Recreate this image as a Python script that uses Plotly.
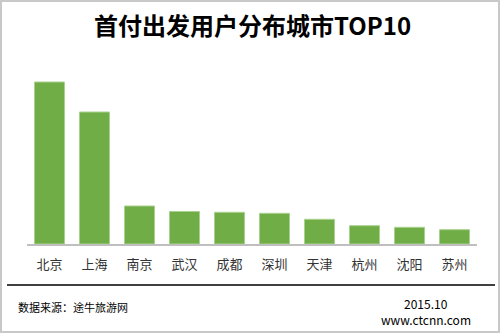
import plotly.graph_objects as go

cities = ["北京", "上海", "南京", "武汉", "成都", "深圳", "天津", "杭州", "沈阳", "苏州"]
values = [162, 132, 38, 32.5, 31.7, 30.7, 24.7, 18.3, 16.7, 14.3]

title_text = "首付出发用户分布城市TOP10"
source_text = "数据来源：途牛旅游网"
date_text = "2015.10"
site_text = "www.ctcnn.com"

FONT = "Noto Sans CJK SC"

# plot area geometry in pixels
L, R, T, B = 27, 477, 74, 244
W, H = R - L, B - T


def px(x):
    return (x - L) / W


def py(y):
    return (B - y) / H


fig = go.Figure(go.Bar(
    x=cities, y=values,
    marker=dict(color="#70AD47", line=dict(color="#A9D18E", width=1)),
    width=0.667,
))

fig.update_layout(
    width=500, height=333,
    margin=dict(l=L, r=500 - R, t=T, b=333 - B),
    paper_bgcolor="white", plot_bgcolor="white",
    showlegend=False,
    font=dict(family=FONT, color="#333333"),
    xaxis=dict(showline=True, linecolor="#BFBFBF", linewidth=1.5,
               ticks="outside", ticklen=8, tickcolor="rgba(0,0,0,0)",
               tickfont=dict(size=13, color="#333333", family=FONT),
               range=[-0.5, 9.5], fixedrange=True),
    yaxis=dict(visible=False, range=[0, 170], showgrid=False, zeroline=False),
    shapes=[
        dict(type="rect", xref="paper", yref="paper",
             x0=px(1), x1=px(499), y0=py(332), y1=py(1),
             line=dict(color="#C8C8C8", width=2), layer="above"),
        dict(type="line", xref="paper", yref="paper",
             x0=px(7), x1=px(495), y0=py(285), y1=py(285),
             line=dict(color="#000000", width=1.5)),
    ],
    annotations=[
        dict(text="<b>" + title_text + "</b>", xref="paper", yref="paper",
             x=px(252), y=py(25), xanchor="center", yanchor="middle",
             showarrow=False, font=dict(size=24, color="#000000", family=FONT)),
        dict(text=source_text, xref="paper", yref="paper",
             x=px(16), y=py(307), xanchor="left", yanchor="middle",
             showarrow=False, font=dict(size=11, color="#000000", family=FONT)),
        dict(text=date_text, xref="paper", yref="paper",
             x=px(426), y=py(303), xanchor="center", yanchor="middle",
             showarrow=False, font=dict(size=12, color="#000000", family=FONT)),
        dict(text=site_text, xref="paper", yref="paper",
             x=px(426), y=py(319.5), xanchor="center", yanchor="middle",
             showarrow=False, font=dict(size=12, color="#000000", family=FONT)),
    ],
)

fig.write_html("out.html")
